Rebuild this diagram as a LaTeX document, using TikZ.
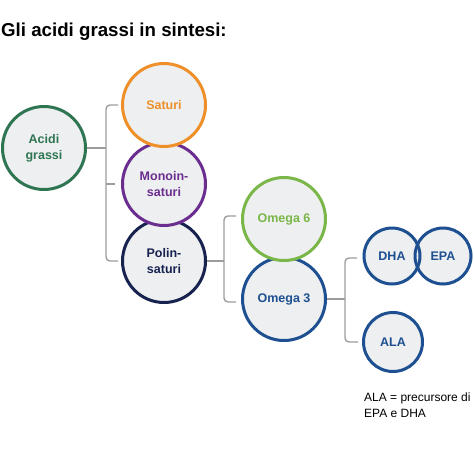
\documentclass[tikz,border=0pt]{standalone}
\usepackage{fontspec}
\setmainfont{Liberation Sans}
\usetikzlibrary{calc}
\definecolor{cgreen}{HTML}{2E7552}
\definecolor{corange}{HTML}{EE8F2A}
\definecolor{cpurple}{HTML}{6B2D8F}
\definecolor{cnavy}{HTML}{18224E}
\definecolor{clgreen}{HTML}{7AB648}
\definecolor{cblue}{HTML}{1D4F91}
\definecolor{cfill}{HTML}{EDEFF0}
\definecolor{cline}{HTML}{9C9C9C}
\tikzset{
  bub/.style={circle, line width=3pt, fill=cfill, inner sep=0pt, align=center,
    font=\bfseries\fontsize{12.5}{16}\selectfont},
  big/.style={bub, minimum size=83pt},
  small/.style={bub, minimum size=59pt},
  conn/.style={draw=cline, line width=1.4pt, rounded corners=4pt},
}
\begin{document}
\begin{tikzpicture}[x=1pt,y=-1pt]
\useasboundingbox (0,0) rectangle (474,455);
\node[anchor=base west, inner sep=0pt, font=\bfseries\fontsize{18.7}{22}\selectfont] (title) at (1,36) {Gli acidi grassi in sintesi:};
% main circles (lower drawn first so upper ones sit on top)
\node[big, draw=cgreen, text=cgreen] (acidi) at (44,148) {Acidi\\grassi};
\node[big, draw=cnavy, text=cnavy] (poli) at (164,261) {Polin-\\saturi};
\node[big, draw=cpurple, text=cpurple] (mono) at (164,184) {Monoin-\\saturi};
\node[big, draw=corange, text=corange] (saturi) at (164,105) {Saturi};
\node[big, draw=cblue, text=cblue] (om3) at (284,299) {Omega 3};
\node[big, draw=clgreen, text=clgreen] (om6) at (284,219) {Omega 6};
\node[small, text=cblue] (dha) at (392,256) {DHA};
\node[small, text=cblue] (epa) at (443,256) {EPA};
\draw[cblue, line width=3pt] (dha) circle (28pt);
\draw[cblue, line width=3pt] (epa) circle (28pt);
\node[small, draw=cblue, text=cblue] (ala) at (393,342) {ALA};
\node[anchor=base west, inner sep=0pt, align=left, font=\fontsize{12}{16}\selectfont] (note) at (364,417) {ALA = precursore di\\EPA e DHA};
% connectors
\coordinate (b1) at (106,148);
\coordinate (b1t) at ($(saturi.west)+(-3,0)$);
\coordinate (b1m) at (115,184);
\coordinate (b1b) at ($(poli.west)+(-3,0)$);
\draw[conn] (acidi.east) -- (b1);
\draw[conn] (b1t) -| (b1) |- (b1b);
\draw[conn] (b1 |- b1m) -- (b1m);
\coordinate (b2) at (224,261);
\coordinate (b2t) at (236,216);
\coordinate (b2b) at (236,302);
\draw[conn] (poli.east) -- (b2);
\draw[conn] (b2t) -| (b2) |- (b2b);
\coordinate (b3) at (345,299);
\coordinate (b3t) at ($(dha.west)+(-4,2)$);
\coordinate (b3b) at ($(ala.west)+(-4,0)$);
\draw[conn] (om3.east) -- (b3);
\draw[conn] (b3t) -| (b3) |- (b3b);
\end{tikzpicture}
\end{document}
